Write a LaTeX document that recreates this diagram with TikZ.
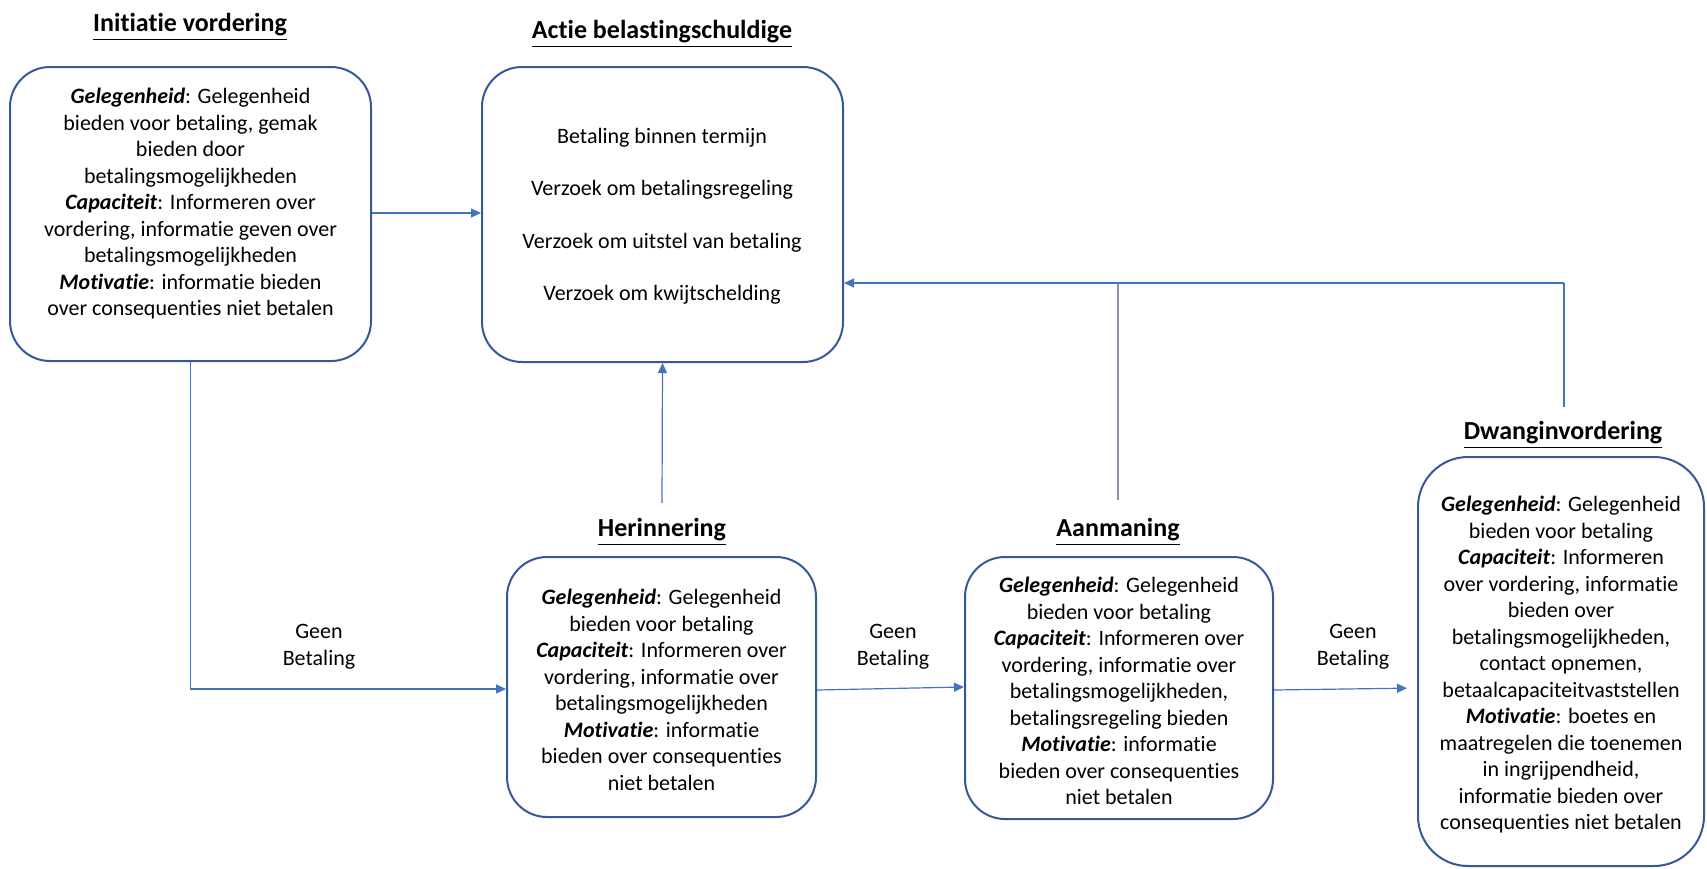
\documentclass[tikz,border=0pt]{standalone}
\usepackage{fontspec}
\setmainfont{Carlito}[Ligatures=NoCommon]
\usepackage{tikz}
\usetikzlibrary{calc}
\usetikzlibrary{positioning}
\usetikzlibrary{arrows.meta}

\definecolor{boxblue}{HTML}{35589A}
\definecolor{lineblue}{HTML}{4472C4}
\definecolor{linegrey}{HTML}{8C95A8}

\newcommand{\kw}[1]{\textbf{\textit{#1}}}

\begin{document}
\begin{tikzpicture}[x=0.5pt, y=-0.5pt,
		box/.style={draw=boxblue, line width=1pt, rounded corners=20pt, inner sep=0pt},
		txt/.style={align=center, inner sep=1pt, font=\fontsize{11}{13.25}\selectfont},
		ttl/.style={inner sep=2pt, font=\fontsize{13}{15}\selectfont\bfseries},
		lbl/.style={align=center, inner sep=1pt, font=\fontsize{11}{13.5}\selectfont},
		conn/.style={draw=lineblue, line width=0.6pt},
		tip/.style={-{Triangle[length=5pt, width=4.5pt]}}]
		\useasboundingbox (0,0) rectangle (1707,868);

		% Initiatie vordering
		\node[ttl] (inittitle) at (190,27) {\underline{Initiatie vordering}};
		\node[box, minimum width=180.5pt, minimum height=147pt] (init) at (190.5,214) {};
		\node[txt] (inittxt) at (190.5,204) {\kw{Gelegenheid}: Gelegenheid\\ bieden voor betaling, gemak\\ bieden door\\ betalingsmogelijkheden\\ \kw{Capaciteit}: Informeren over\\ vordering, informatie geven over\\ betalingsmogelijkheden\\ \kw{Motivatie}: informatie bieden\\ over consequenties niet betalen};

		% Actie belastingschuldige
		\node[ttl] (actietitle) at (662,34) {\underline{Actie belastingschuldige}};
		\node[box, minimum width=180.5pt, minimum height=147.5pt] (actie) at (662.5,214.5) {};
		\node[txt, font=\fontsize{11}{26.25}\selectfont] (actietxt) at (662,216) {Betaling binnen termijn\\ Verzoek om betalingsregeling\\ Verzoek om uitstel van betaling\\ Verzoek om kwijtschelding};

		% Herinnering
		\node[ttl] (herintitle) at (662,532) {\underline{Herinnering}};
		\node[box, minimum width=154.5pt, minimum height=130pt] (herin) at (661.5,687) {};
		\node[txt] (herintxt) at (661.5,690) {\kw{Gelegenheid}: Gelegenheid\\ bieden voor betaling\\ \kw{Capaciteit}: Informeren over\\ vordering, informatie over\\ betalingsmogelijkheden\\ \kw{Motivatie}: informatie\\ bieden over consequenties\\ niet betalen};

		% Aanmaning
		\node[ttl] (aanmtitle) at (1118,532) {\underline{Aanmaning}};
		\node[box, minimum width=154pt, minimum height=131pt] (aanm) at (1119,688) {};
		\node[txt] (aanmtxt) at (1119,691) {\kw{Gelegenheid}: Gelegenheid\\ bieden voor betaling\\ \kw{Capaciteit}: Informeren over\\ vordering, informatie over\\ betalingsmogelijkheden,\\ betalingsregeling bieden\\ \kw{Motivatie}: informatie\\ bieden over consequenties\\ niet betalen};

		% Dwanginvordering
		\node[ttl] (dwangtitle) at (1563,435) {\underline{Dwanginvordering}};
		\node[box, rounded corners=25pt, minimum width=143pt, minimum height=204.5pt] (dwang) at (1561,661.5) {};
		\node[txt] (dwangtxt) at (1561,665) {\kw{Gelegenheid}: Gelegenheid\\ bieden voor betaling\\ \kw{Capaciteit}: Informeren\\ over vordering, informatie\\ bieden over\\ betalingsmogelijkheden,\\ contact opnemen,\\ betaalcapaciteitvaststellen\\ \kw{Motivatie}: boetes en\\ maatregelen die toenemen\\ in ingrijpendheid,\\ informatie bieden over\\ consequenties niet betalen};

		% Geen betaling labels
		\node[lbl] (geen1) at (319,647) {Geen\\ Betaling};
		\node[lbl] (geen2) at (893,647) {Geen\\ Betaling};
		\node[lbl] (geen3) at (1353,647) {Geen\\ Betaling};

		% Connectors
		\coordinate (bend) at (init.south |- 0,689);
		\coordinate (merge) at (1564,283);
		\draw[conn, tip] (init.east |- 0,213) -- (actie.west |- 0,213);
		\draw[conn, tip] (init.south) -- (bend) -- (bend -| herin.west);
		\draw[conn, tip] (herin.east |- 0,690) -- (herin.east -| aanm.west);
		\draw[conn, tip, shorten >=5pt] (aanm.east |- 0,690) -- (aanm.east -| dwang.west);
		\draw[conn, tip] (herintitle.north |- 0,503) -- (actie.south);
		\draw[conn, draw=linegrey] (aanmtitle.north |- 0,500) -- (aanmtitle.north |- merge);
		\draw[conn] (merge |- 0,407) -- (merge);
		\draw[conn, tip] (merge) -- (merge -| actie.east);
	\end{tikzpicture}
\end{document}
